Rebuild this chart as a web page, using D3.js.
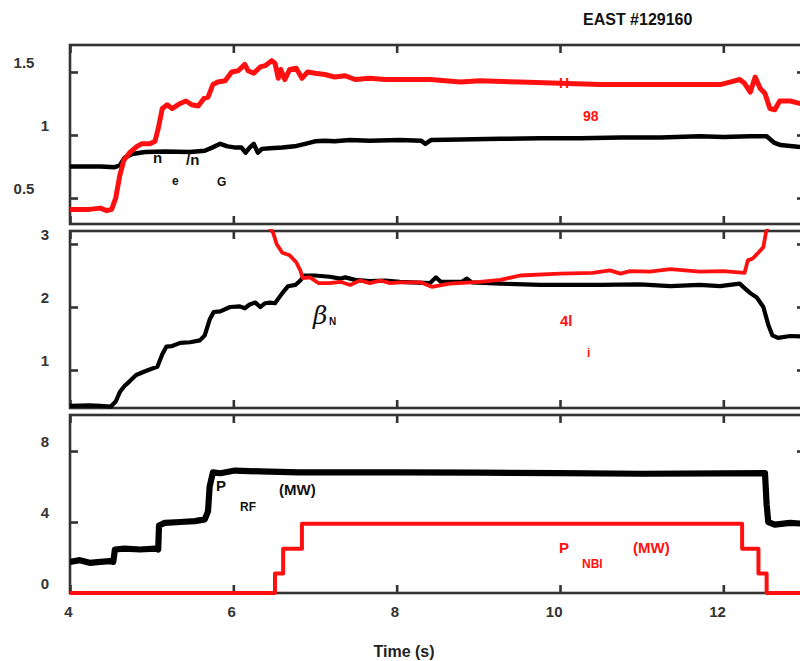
<!DOCTYPE html>
<html>
<head>
<meta charset="utf-8">
<script src="https://cdn.jsdelivr.net/npm/d3@7"></script>
<style>
  html, body { margin: 0; padding: 0; background: #fff; }
  svg { display: block; font-family: "Liberation Sans", Arial, sans-serif; }
</style>
</head>
<body>
<svg id="chart" width="800" height="661"></svg>
<script>
// ---- shot data: [time (s), value] ----
const h98 = [[4.00,0.41],[4.24,0.41],[4.37,0.42],[4.45,0.40],[4.51,0.41],[4.56,0.50],[4.61,0.68],[4.66,0.80],
  [4.73,0.86],[4.82,0.91],[4.88,0.93],[4.98,0.93],[5.04,0.95],[5.08,1.05],[5.13,1.21],[5.19,1.24],[5.25,1.21],
  [5.35,1.25],[5.42,1.27],[5.49,1.24],[5.57,1.23],[5.64,1.29],[5.69,1.30],[5.75,1.40],[5.81,1.42],[5.90,1.43],
  [5.98,1.50],[6.06,1.51],[6.14,1.56],[6.18,1.51],[6.25,1.49],[6.33,1.54],[6.39,1.55],[6.47,1.59],[6.51,1.57],
  [6.55,1.45],[6.58,1.52],[6.63,1.44],[6.69,1.52],[6.77,1.53],[6.84,1.45],[6.91,1.50],[7.00,1.49],[7.12,1.48],
  [7.24,1.46],[7.37,1.47],[7.49,1.44],[7.67,1.45],[7.86,1.44],[8.04,1.44],[8.41,1.44],[8.78,1.42],[9.02,1.43],
  [9.51,1.42],[10.00,1.41],[10.49,1.40],[10.98,1.40],[11.47,1.40],[11.96,1.40],[12.08,1.42],[12.20,1.44],
  [12.26,1.41],[12.33,1.34],[12.39,1.46],[12.45,1.37],[12.51,1.33],[12.57,1.21],[12.63,1.20],[12.69,1.27],
  [12.82,1.27],[13.00,1.24]];

const neNG = [[4.00,0.75],[4.37,0.75],[4.55,0.745],[4.61,0.76],[4.67,0.82],[4.76,0.85],[4.92,0.865],[5.16,0.87],
  [5.47,0.865],[5.65,0.875],[5.74,0.90],[5.84,0.93],[5.93,0.91],[6.03,0.90],[6.10,0.90],[6.15,0.86],[6.20,0.90],
  [6.25,0.93],[6.30,0.86],[6.35,0.89],[6.45,0.895],[6.60,0.90],[6.75,0.91],[6.88,0.93],[7.00,0.95],[7.12,0.955],
  [7.24,0.95],[7.43,0.96],[7.67,0.955],[8.04,0.96],[8.30,0.955],[8.35,0.93],[8.42,0.96],[8.78,0.965],[9.27,0.97],
  [9.76,0.975],[10.25,0.975],[10.74,0.98],[11.23,0.98],[11.71,0.99],[12.00,0.985],[12.33,0.99],[12.53,0.99],
  [12.62,0.94],[12.70,0.92],[12.85,0.91],[13.00,0.90]];

const betaN = [[4.00,0.43],[4.24,0.44],[4.37,0.43],[4.50,0.42],[4.56,0.50],[4.61,0.65],[4.67,0.75],[4.73,0.82],
  [4.81,0.92],[4.92,0.98],[5.00,1.02],[5.07,1.05],[5.13,1.25],[5.18,1.37],[5.25,1.38],[5.35,1.43],[5.47,1.44],
  [5.59,1.47],[5.65,1.55],[5.71,1.80],[5.76,1.92],[5.84,1.93],[5.96,2.00],[6.08,2.01],[6.14,1.98],[6.20,2.04],
  [6.27,2.07],[6.33,2.00],[6.39,2.06],[6.45,2.07],[6.51,2.06],[6.60,2.22],[6.67,2.33],[6.76,2.35],[6.82,2.42],
  [6.87,2.50],[7.00,2.50],[7.18,2.48],[7.31,2.45],[7.37,2.47],[7.49,2.43],[7.67,2.41],[7.86,2.42],[8.04,2.40],
  [8.41,2.38],[8.48,2.47],[8.54,2.40],[8.80,2.40],[8.86,2.45],[8.92,2.39],[9.27,2.37],[9.76,2.35],[10.49,2.35],
  [10.98,2.36],[11.35,2.33],[11.71,2.35],[11.96,2.33],[12.20,2.37],[12.26,2.30],[12.33,2.22],[12.41,2.15],
  [12.49,2.00],[12.55,1.72],[12.60,1.55],[12.67,1.51],[12.82,1.54],[13.00,1.53]];

const li4 = [[6.42,3.30],[6.49,3.17],[6.53,3.00],[6.60,2.86],[6.69,2.82],[6.77,2.71],[6.82,2.58],[6.85,2.46],
  [6.94,2.47],[7.04,2.38],[7.18,2.38],[7.31,2.40],[7.43,2.35],[7.55,2.42],[7.67,2.38],[7.80,2.42],[7.92,2.38],
  [8.04,2.39],[8.30,2.39],[8.43,2.32],[8.65,2.37],[9.02,2.40],[9.27,2.43],[9.51,2.50],[10.00,2.53],[10.40,2.54],
  [10.61,2.58],[10.74,2.53],[10.86,2.57],[11.10,2.56],[11.35,2.60],[11.71,2.56],[12.00,2.57],[12.26,2.54],
  [12.30,2.74],[12.36,2.77],[12.42,2.85],[12.49,2.95],[12.52,3.17],[12.55,3.30]];

const pRF = [[4.00,1.75],[4.12,1.85],[4.24,1.70],[4.37,1.75],[4.49,1.80],[4.53,1.75],[4.55,2.45],[4.67,2.50],
  [4.86,2.45],[5.04,2.50],[5.08,2.45],[5.09,3.80],[5.16,3.95],[5.35,4.00],[5.53,4.05],[5.65,4.15],[5.69,4.60],
  [5.71,6.00],[5.75,6.80],[5.84,6.75],[6.02,6.90],[6.33,6.85],[6.80,6.80],[8.00,6.80],[9.00,6.78],[10.00,6.75],
  [11.00,6.72],[12.00,6.74],[12.51,6.75],[12.53,5.00],[12.55,4.00],[12.63,3.85],[12.82,3.95],[13.00,3.90]];

const pNBI = [[4.00,0],[6.51,1.1],[6.61,2.5],[6.84,3.9],[12.23,2.5],[12.43,1.1],[12.53,0],[13.00,0]];

const xTicks = [4, 6, 8, 10, 12];
const topTicks = [0.5, 1, 1.5];
const midTicks = [1, 2, 3];
const botTicks = [0, 4, 8];

// ---- layout ----
const svg = d3.select("#chart");
const x = d3.scaleLinear().domain([4, 13]).range([70, 805]);
const ink = "#333";
const RED = "#ff1010";

const panels = [
  { id: "p1", top: 45,  bottom: 224, y: d3.scaleLinear().domain([0.294, 1.714]).range([224, 45]),  ticks: topTicks },
  { id: "p2", top: 231, bottom: 408, y: d3.scaleLinear().domain([0.397, 3.206]).range([408, 231]), ticks: midTicks },
  { id: "p3", top: 415, bottom: 593, y: d3.scaleLinear().domain([0, 10.03]).range([593, 415]),     ticks: botTicks }
];

const defs = svg.append("defs");
panels.forEach(p => {
  defs.append("clipPath").attr("id", "clip-" + p.id)
    .append("rect")
    .attr("x", x.range()[0]).attr("y", p.top - 2)
    .attr("width", x.range()[1] - x.range()[0]).attr("height", p.bottom - p.top + 4);
});

// panel annotations (drawn under the traces)
const ann = svg.append("g").attr("font-weight", "bold");
function label(txt, px, py, size, color, extra) {
  const t = ann.append("text").attr("x", px).attr("y", py)
    .attr("font-size", size).attr("fill", color).text(txt);
  if (extra) extra(t);
  return t;
}
label("n", 153, 163, 15, "#111");
label("e", 172, 185, 12, "#111");
label("/n", 186, 165, 15, "#111");
label("G", 217, 186, 12, "#111");
label("H", 559, 88, 14, RED);
label("98", 583, 121, 14, RED);
label("\u03B2", 313, 324, 25, "#111", t => t.attr("font-family", "'DejaVu Serif', 'Liberation Serif', serif")
  .attr("font-style", "italic").attr("font-weight", "normal"));
label("N", 329, 325, 10, "#111");
label("4l", 560, 326, 15, RED);
label("i", 587, 357, 12, RED);
label("P", 216, 491, 15, "#111");
label("RF", 240, 511, 12, "#111");
label("(MW)", 279, 495, 15, "#111");
label("P", 559, 553, 15, RED);
label("NBI", 582, 568, 12, RED);
label("(MW)", 633, 553, 15, RED);

// frames
panels.forEach(p => {
  svg.append("rect")
    .attr("x", x.range()[0]).attr("y", p.top)
    .attr("width", x.range()[1] - x.range()[0]).attr("height", p.bottom - p.top)
    .attr("fill", "none").attr("stroke", ink).attr("stroke-width", 2.6);
});

// inward ticks on all four sides
function styleAxis(g) {
  g.select(".domain").remove();
  g.selectAll(".tick line").attr("stroke", ink).attr("stroke-width", 2.6);
}
panels.forEach((p, i) => {
  svg.append("g").attr("transform", `translate(0,${p.top})`)
    .call(d3.axisTop(x).tickValues(xTicks).tickSize(-8).tickFormat(""))
    .call(styleAxis);
  const bx = svg.append("g").attr("transform", `translate(0,${p.bottom})`)
    .call(d3.axisBottom(x).tickValues(xTicks).tickSize(-8).tickFormat(i === 2 ? d3.format("d") : ""))
    .call(styleAxis);
  if (i === 2) {
    bx.selectAll(".tick text")
      .attr("text-anchor", "end").attr("x", 2).attr("y", 13).attr("dy", "0.71em")
      .attr("fill", ink).attr("font-size", 15).attr("font-weight", "bold")
      .attr("font-family", "'Liberation Sans', Arial, sans-serif");
  }
  const ly = svg.append("g").attr("transform", `translate(${x.range()[0]},0)`)
    .call(d3.axisLeft(p.y).tickValues(p.ticks).tickSize(-8).tickFormat(d => String(d)))
    .call(styleAxis);
  ly.selectAll(".tick text")
    .attr("text-anchor", "middle")
    .attr("x", d => (Number.isInteger(d) ? 45 : 24) - x.range()[0])
    .attr("y", -10).attr("dy", "0.36em")
    .attr("fill", ink).attr("font-size", 15).attr("font-weight", "bold")
    .attr("font-family", "'Liberation Sans', Arial, sans-serif");
  svg.append("g").attr("transform", `translate(${x.range()[1]},0)`)
    .call(d3.axisRight(p.y).tickValues(p.ticks).tickSize(-8).tickFormat(""))
    .call(styleAxis);
});

// traces
function trace(p, data, color, width, curve) {
  const line = d3.line().x(d => x(d[0])).y(d => p.y(d[1])).curve(curve || d3.curveLinear);
  svg.append("path")
    .attr("clip-path", `url(#clip-${p.id})`)
    .attr("d", line(data))
    .attr("fill", "none").attr("stroke", color).attr("stroke-width", width)
    .attr("stroke-linejoin", "round").attr("stroke-linecap", "round");
}
trace(panels[0], neNG, "#000", 4.5);
trace(panels[0], h98, RED, 5);
trace(panels[1], betaN, "#000", 4.2);
trace(panels[1], li4, RED, 3.8);
trace(panels[2], pRF, "#000", 6.2);
trace(panels[2], pNBI, RED, 4, d3.curveStepAfter);

// title and axis title
svg.append("text").attr("x", 583).attr("y", 25)
  .attr("font-size", 16).attr("font-weight", "bold").attr("fill", "#111")
  .text("EAST #129160");
svg.append("text").attr("x", 404).attr("y", 657).attr("text-anchor", "middle")
  .attr("font-size", 16).attr("font-weight", "bold").attr("fill", "#222")
  .text("Time (s)");
</script>
</body>
</html>
